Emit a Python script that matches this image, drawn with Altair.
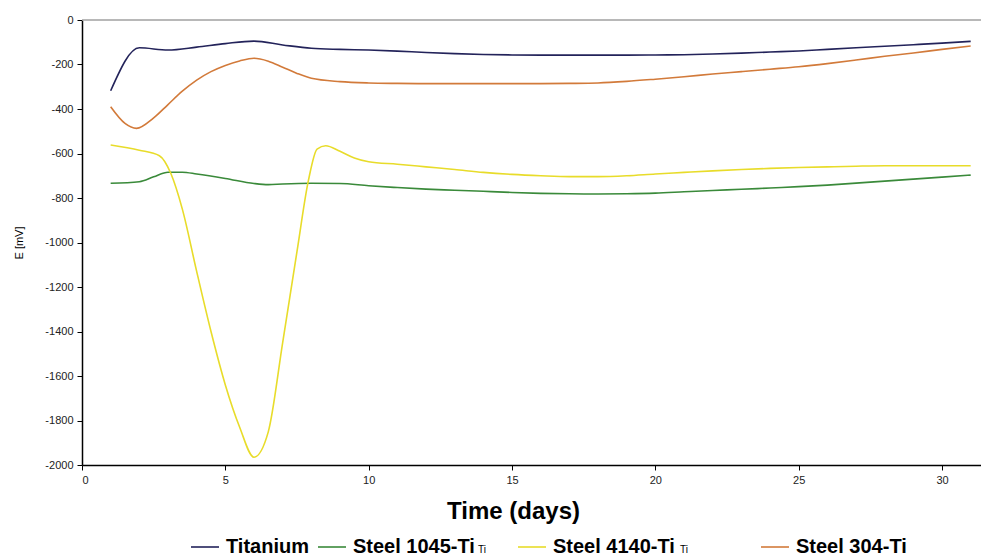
import altair as alt
import pandas as pd

FONT = "Liberation Sans"

series_names = ["Titanium", "Steel 1045-Ti", "Steel 4140-Ti", "Steel 304-Ti"]
series_colors = ["#23235a", "#3a8a3a", "#e8dc2a", "#d27a3a"]

ti_days = list(range(1, 32))
ti_E = [-318, -125, -135, -122, -106, -95, -112, -127, -132, -135, -140, -146, -151,
        -155, -157, -158, -158, -158, -158, -157, -156, -153, -149, -144, -139, -132,
        -125, -118, -111, -104, -96]

s1045_days = [1, 2, 2.5, 3, 3.5, 4, 5, 6, 6.5, 7, 8, 9, 10, 11, 12, 13, 14, 15, 16, 17,
              18, 19, 20, 21, 22, 23, 24, 25, 26, 27, 28, 29, 30, 31]
s1045_E = [-734, -727, -705, -684, -684, -692, -712, -735, -740, -737, -734, -735, -745,
           -753, -760, -765, -770, -775, -779, -781, -782, -781, -778, -772, -766, -761,
           -755, -749, -742, -733, -724, -715, -706, -697]

s4140_days = [1, 2, 2.7, 3.1, 3.5, 4, 4.5, 5, 5.5, 6, 6.5, 7, 7.5, 7.9, 8.2, 8.5, 9, 9.5,
              10, 11, 12, 13, 14, 15, 16, 17, 18, 19, 20, 21, 22, 23, 24, 25, 26, 27, 28,
              29, 30, 31]
s4140_E = [-562, -585, -610, -690, -850, -1130, -1400, -1640, -1830, -1965, -1850, -1450,
           -1040, -720, -580, -565, -590, -620, -637, -648, -660, -672, -685, -694, -700,
           -704, -704, -700, -692, -685, -678, -672, -667, -663, -660, -657, -655, -655,
           -655, -655]

s304_days = [1, 1.5, 1.9, 2.5, 3, 3.5, 4, 4.5, 5, 5.5, 6, 6.5, 7, 7.5, 8, 9, 10, 11, 12,
             13, 14, 15, 16, 17, 18, 19, 20, 21, 22, 23, 24, 25, 26, 27, 28, 29, 30, 31]
s304_E = [-390, -465, -487, -440, -380, -320, -270, -232, -204, -184, -172, -185, -212,
          -240, -262, -277, -283, -285, -286, -286, -286, -286, -286, -285, -283, -276,
          -266, -255, -243, -232, -221, -210, -196, -180, -163, -148, -132, -117]

x_ticks = [0, 5, 10, 15, 20, 25, 30]
y_ticks = list(range(-2000, 1, 200))

rows = []
for name, days, vals in [
    ("Titanium", ti_days, ti_E),
    ("Steel 1045-Ti", s1045_days, s1045_E),
    ("Steel 4140-Ti", s4140_days, s4140_E),
    ("Steel 304-Ti", s304_days, s304_E),
]:
    for d, v in zip(days, vals):
        rows.append({"series": name, "day": d, "E": v})
df = pd.DataFrame(rows)

W, H = 899, 445
legend_x = [108, 235, 435, 678]

x_enc = alt.X("day:Q",
              scale=alt.Scale(domain=[0, 31.36], nice=False, zero=False),
              axis=alt.Axis(values=x_ticks, title="Time (days)", format="d",
                            titleX=431, titleFontSize=24, titleFontWeight="bold",
                            titlePadding=14))
y_enc = alt.Y("E:Q",
              scale=alt.Scale(domain=[-2000, 0], nice=False),
              axis=alt.Axis(values=y_ticks, title="E [mV]",
                            labelExpr="'' + datum.value",
                            titleFontSize=11, titleFontWeight="normal",
                            titlePadding=20))

layers = []
top_rule = alt.Chart(pd.DataFrame({"a": [0]})).mark_rule(
    color="#a0a0a0", strokeWidth=1.5
).encode(x=alt.value(0), x2=alt.value(W), y=alt.value(0))
layers.append(top_rule)

for name, col, lx in zip(series_names, series_colors, legend_x):
    layer = alt.Chart(df).transform_filter(
        alt.datum.series == name
    ).mark_line(strokeWidth=1.6, interpolate="monotone").encode(
        x=x_enc, y=y_enc,
        color=alt.Color("series:N",
                        scale=alt.Scale(domain=[name], range=[col]),
                        legend=alt.Legend(orient="none", legendX=lx, legendY=512,
                                          direction="horizontal", title=None,
                                          symbolType="stroke", symbolSize=784,
                                          symbolStrokeWidth=1.6, labelFont=FONT,
                                          labelFontSize=20, labelFontWeight="bold",
                                          labelColor="black", labelOffset=6,
                                          labelLimit=400)),
    )
    layers.append(layer)

ti_small_1 = alt.Chart(pd.DataFrame({"a": [0]})).mark_text(
    font=FONT, fontSize=10, color="black", align="left", baseline="alphabetic"
).encode(x=alt.value(396), y=alt.value(533), text=alt.value("Ti"))

ti_small_2 = alt.Chart(pd.DataFrame({"a": [0]})).mark_text(
    font=FONT, fontSize=10, color="black", align="left", baseline="alphabetic"
).encode(x=alt.value(598), y=alt.value(533), text=alt.value("Ti"))
layers += [ti_small_1, ti_small_2]

chart = alt.layer(*layers).resolve_scale(color="independent").properties(
    width=W, height=H,
    padding={"left": 74, "top": 12, "right": 0, "bottom": 94},
    autosize=alt.AutoSizeParams(type="none"),
).configure_view(stroke=None).configure_axis(
    labelFont=FONT, titleFont=FONT, labelFontSize=11, labelColor="#222",
    titleColor="black", domainColor="black", domainWidth=1.5,
    tickColor="black", tickSize=5, grid=False, labelPadding=4,
)

chart.save("out.html", embed_options={"renderer": "svg", "actions": False})
